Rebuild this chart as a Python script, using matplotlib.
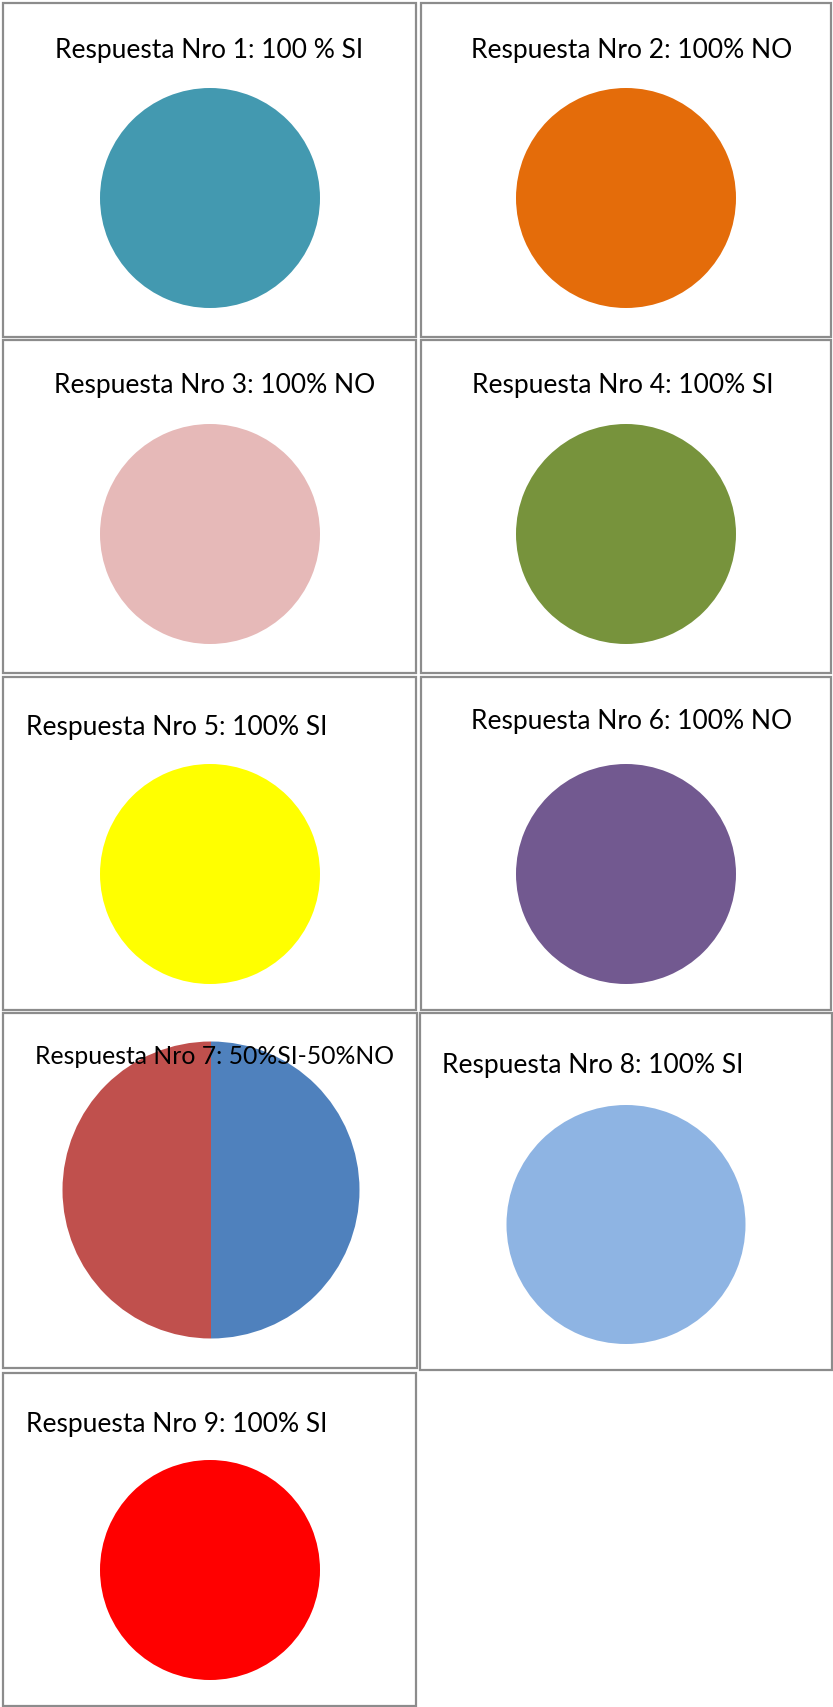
import matplotlib
matplotlib.use("Agg")
import matplotlib.pyplot as plt
from matplotlib.patches import Rectangle

W, H = 833, 1707

titles = [
    "Respuesta Nro 1: 100 % SI",
    "Respuesta Nro 2: 100% NO",
    "Respuesta Nro 3: 100% NO",
    "Respuesta Nro 4: 100% SI",
    "Respuesta Nro 5: 100% SI",
    "Respuesta Nro 6: 100% NO",
    "Respuesta Nro 7: 50%SI-50%NO",
    "Respuesta Nro 8: 100% SI",
    "Respuesta Nro 9: 100% SI",
]
# percentage shares per answer: [SI, NO]
si_pct = [100, 0, 0, 100, 100, 0, 50, 100, 100]
no_pct = [0, 100, 100, 0, 0, 100, 50, 0, 0]
si_colors = ["#4399B0", "#E46C0A", "#E6B9B8", "#77933C", "#FFFF00",
             "#725990", "#4F81BD", "#8EB4E3", "#FF0000"]
no_colors = ["#4399B0", "#E46C0A", "#E6B9B8", "#77933C", "#FFFF00",
             "#725990", "#C0504D", "#8EB4E3", "#FF0000"]

# layout in pixels: frame (x0, y0, x1, y1), circle (cx, cy, r), title (x, baseline, align, size)
frames = [(3, 3, 416, 337), (421, 3, 831, 337),
          (3, 340, 416, 673), (421, 340, 831, 673),
          (3, 677, 416, 1010), (421, 677, 831, 1010),
          (3, 1013, 417, 1368), (420, 1013, 832, 1370),
          (3, 1373, 416, 1706)]
circles = [(210, 198, 110), (626, 198, 110),
           (210, 534, 110), (626, 534, 110),
           (210, 874, 110), (626, 874, 110),
           (211, 1190, 148.5), (626, 1224.5, 119.5),
           (210, 1570, 110)]
title_pos = [(209.5, 58, "center", 19), (631.5, 58, "center", 19),
             (215, 393, "center", 19), (622.5, 393, "center", 19),
             (26, 735, "left", 19), (631.5, 729, "center", 19),
             (35, 1064, "left", 17.8), (442, 1073, "left", 19),
             (26, 1432, "left", 19)]

fig = plt.figure(figsize=(W / 100, H / 100), dpi=100)
fig.patch.set_facecolor("white")

for (x0, y0, x1, y1) in frames:
    fig.patches.append(Rectangle((x0 / W, 1 - y1 / H), (x1 - x0) / W, (y1 - y0) / H,
                                 transform=fig.transFigure, fill=False,
                                 edgecolor="#8C8C8C", linewidth=1.6, zorder=1))

for i in range(len(titles)):
    cx, cy, r = circles[i]
    ax = fig.add_axes([(cx - r) / W, 1 - (cy + r) / H, 2 * r / W, 2 * r / H])
    vals = [si_pct[i], no_pct[i]]
    cols = [si_colors[i], no_colors[i]]
    keep = [(v, c) for v, c in zip(vals, cols) if v > 0]
    ax.pie([v for v, _ in keep], colors=[c for _, c in keep], startangle=90,
           counterclock=False, radius=1.0, wedgeprops=dict(linewidth=0))
    ax.set_xlim(-1, 1)
    ax.set_ylim(-1, 1)
    ax.set_aspect("equal")
    ax.axis("off")

for i, t in enumerate(titles):
    x, yb, ha, fs = title_pos[i]
    fig.text(x / W, 1 - yb / H, t, ha=ha, va="baseline", fontsize=fs,
             family="Lato", color="#000000", zorder=10)

fig.savefig("out.png", dpi=100, facecolor="white")
